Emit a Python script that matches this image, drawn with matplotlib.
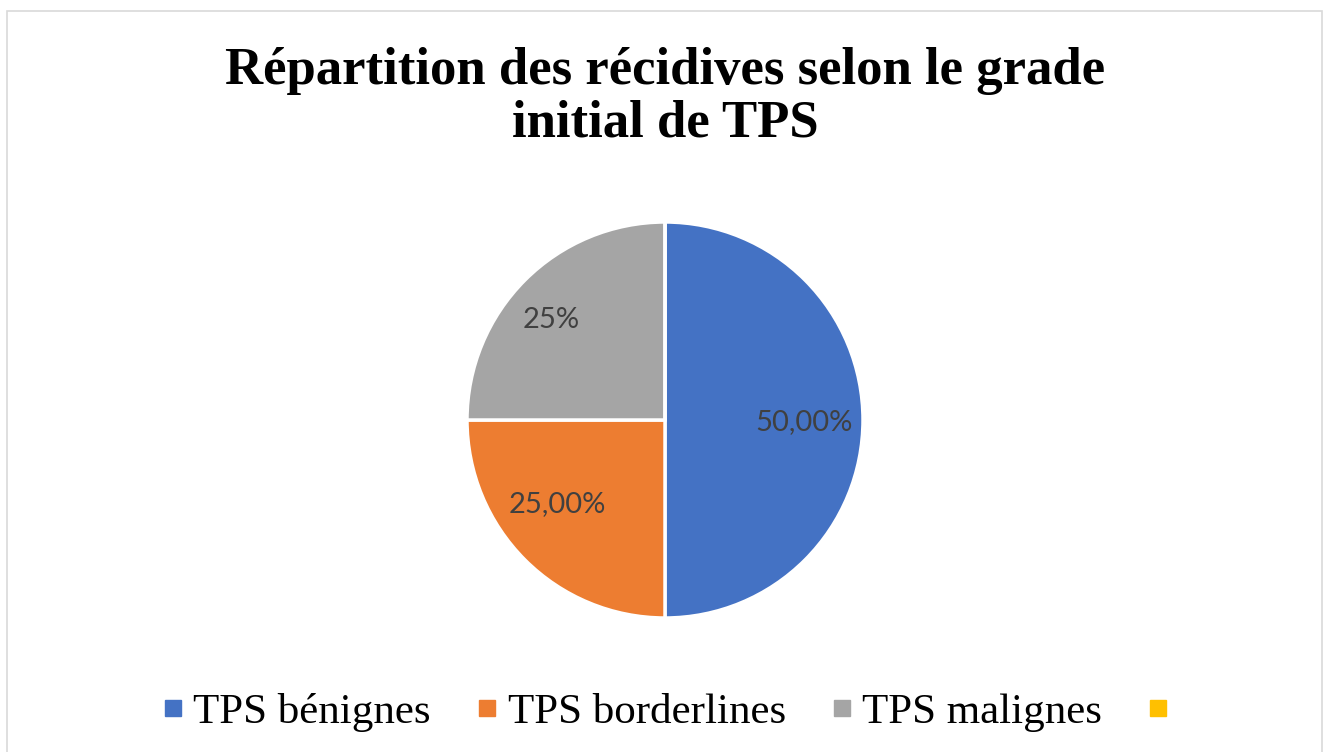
import matplotlib
matplotlib.use("Agg")
import matplotlib.pyplot as plt
from matplotlib.patches import Rectangle
from matplotlib.lines import Line2D

# Data
categories = ["TPS bénignes", "TPS borderlines", "TPS malignes", ""]
values = [50, 25, 25, 0]
value_labels = ["50,00%", "25,00%", "25%", ""]
colors = ["#4472C4", "#ED7D31", "#A5A5A5", "#FFC000"]
title = "Répartition des récidives selon le grade\ninitial de TPS"

W, H = 1330, 752
fig = plt.figure(figsize=(W / 100, H / 100), dpi=100)
fig.patch.set_facecolor("white")

# chart border
fig.add_artist(Rectangle((7 / W, -0.05), (1322 - 7) / W, 1.05 - 11 / H,
                         transform=fig.transFigure, fill=False,
                         edgecolor="#D9D9D9", linewidth=1.2))

# title
fig.text(665 / W, 1 - 97 / H, title, ha="center", va="center",
         family="Liberation Serif", fontweight="bold", fontsize=38,
         linespacing=1.12, color="black")

# pie
cx, cy, half = 665, 420, 200
ax = fig.add_axes([(cx - half) / W, (H - cy - half) / H, 2 * half / W, 2 * half / H])
ax.axis("off")

label_iter = iter(value_labels)
wedges, texts, autotexts = ax.pie(
    values, colors=colors, startangle=90, counterclock=False, radius=0.99,
    wedgeprops=dict(edgecolor="white", linewidth=2.5),
    autopct=lambda p: next(label_iter), pctdistance=0.7,
    textprops=dict(family="Lato", fontsize=21, color="#404040"))
ax.set_xlim(-1, 1)
ax.set_ylim(-1, 1)
ax.set_aspect("equal")

# small label nudges (Excel best-fit placement), in axes data units
nudges = [(0.0, -0.01), (-0.05, 0.07), (-0.08, 0.01), (0.0, 0.0)]
for t, (dx, dy) in zip(autotexts, nudges):
    x, y = t.get_position()
    t.set_position((x + dx, y + dy))

# legend
handles = [Line2D([0], [0], marker="s", linestyle="none", markersize=12,
                  markerfacecolor=c, markeredgecolor=c) for c in colors]
fig.legend(handles, categories, loc="center", bbox_to_anchor=(671 / W, 1 - 712 / H),
           ncol=4, frameon=False, handlelength=0.45, handletextpad=0.25,
           columnspacing=1.08,
           prop=dict(family="Liberation Serif", size=31))

fig.savefig("out.png", dpi=100, facecolor="white")
